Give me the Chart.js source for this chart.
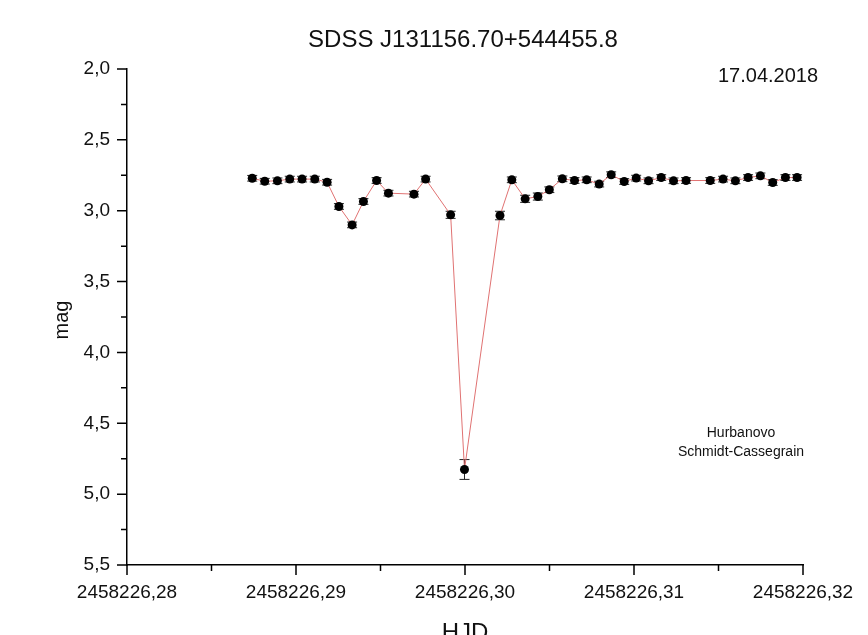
<!DOCTYPE html>
<html>
<head>
<meta charset="utf-8">
<script src="https://cdn.jsdelivr.net/npm/chart.js@4/dist/chart.umd.min.js"></script>
<style>
  html, body { margin: 0; padding: 0; background: #fff; }
  #wrap { width: 868px; height: 635px; position: relative; }
</style>
</head>
<body>
<div id="wrap"><canvas id="lc"></canvas></div>
<script>
// light curve, Hurbanovo 17.04.2018
const hjd = [
  2458226.28741, 2458226.28815, 2458226.28890, 2458226.28963, 2458226.29036,
  2458226.29111, 2458226.29184, 2458226.29254, 2458226.29332, 2458226.29399,
  2458226.29477, 2458226.29547, 2458226.29698, 2458226.29767, 2458226.29915,
  2458226.29997, 2458226.30207, 2458226.30277, 2458226.30356, 2458226.30431,
  2458226.30499, 2458226.30576, 2458226.30648, 2458226.30720, 2458226.30794,
  2458226.30865, 2458226.30942, 2458226.31013, 2458226.31086, 2458226.31161,
  2458226.31234, 2458226.31308, 2458226.31451, 2458226.31527, 2458226.31600,
  2458226.31675, 2458226.31748, 2458226.31821, 2458226.31896, 2458226.31965
];
const mag = [
  2.771, 2.792, 2.789, 2.777, 2.777, 2.777, 2.799, 2.970, 3.100, 2.935,
  2.787, 2.876, 2.883, 2.777, 3.029, 4.826, 3.034, 2.782, 2.916, 2.900,
  2.852, 2.775, 2.787, 2.782, 2.812, 2.746, 2.794, 2.770, 2.789, 2.766,
  2.789, 2.787, 2.787, 2.777, 2.789, 2.766, 2.754, 2.801, 2.766, 2.766
];
const magErr = [
  0.02, 0.02, 0.02, 0.02, 0.02, 0.02, 0.02, 0.02, 0.02, 0.02,
  0.02, 0.02, 0.02, 0.02, 0.025, 0.07, 0.03, 0.02, 0.025, 0.025,
  0.02, 0.02, 0.02, 0.02, 0.02, 0.02, 0.02, 0.02, 0.02, 0.02,
  0.02, 0.02, 0.02, 0.02, 0.02, 0.02, 0.02, 0.02, 0.02, 0.02
];
const xTicks = [2458226.28, 2458226.29, 2458226.30, 2458226.31, 2458226.32];
const yTicks = [2.0, 2.5, 3.0, 3.5, 4.0, 4.5, 5.0, 5.5];

const FONT = '"Liberation Sans", Arial, sans-serif';
const comma = (v, d) => v.toFixed(d).replace('.', ',');

// error bars under the points
const errorBars = {
  id: 'errorBars',
  beforeDatasetsDraw(chart) {
    const { ctx, scales: { x, y } } = chart;
    ctx.save();
    ctx.strokeStyle = '#222';
    ctx.lineWidth = 1;
    hjd.forEach((t, i) => {
      const px = x.getPixelForValue(t);
      const top = y.getPixelForValue(mag[i] - magErr[i]);
      const bot = y.getPixelForValue(mag[i] + magErr[i]);
      ctx.beginPath();
      ctx.moveTo(px, top); ctx.lineTo(px, bot);
      ctx.moveTo(px - 5, top); ctx.lineTo(px + 5, top);
      ctx.moveTo(px - 5, bot); ctx.lineTo(px + 5, bot);
      ctx.stroke();
    });
    ctx.restore();
  }
};

// outward major/minor tick marks + free texts
const decor = {
  id: 'decor',
  afterDraw(chart) {
    const { ctx, scales: { x, y }, chartArea: a } = chart;
    ctx.save();
    ctx.strokeStyle = '#000';
    ctx.lineWidth = 1.5;
    ctx.beginPath();
    xTicks.forEach((t, i) => {
      const px = x.getPixelForValue(t);
      ctx.moveTo(px, a.bottom); ctx.lineTo(px, a.bottom + 10);
      if (i < xTicks.length - 1) {
        const mx = x.getPixelForValue((t + xTicks[i + 1]) / 2);
        ctx.moveTo(mx, a.bottom); ctx.lineTo(mx, a.bottom + 6);
      }
    });
    yTicks.forEach((v, i) => {
      const py = y.getPixelForValue(v);
      ctx.moveTo(a.left, py); ctx.lineTo(a.left - 10, py);
      if (i < yTicks.length - 1) {
        const my = y.getPixelForValue((v + yTicks[i + 1]) / 2);
        ctx.moveTo(a.left, my); ctx.lineTo(a.left - 6, my);
      }
    });
    ctx.stroke();

    ctx.fillStyle = '#111';
    ctx.textAlign = 'center';
    ctx.textBaseline = 'middle';
    ctx.font = '24px ' + FONT;
    ctx.fillText('SDSS J131156.70+544455.8', 463, 40);
    ctx.fillText('HJD', 465, 633);
    ctx.font = '20px ' + FONT;
    ctx.fillText('17.04.2018', 768, 76);
    ctx.font = '14px ' + FONT;
    ctx.fillText('Hurbanovo', 741, 433);
    ctx.fillText('Schmidt-Cassegrain', 741, 452);
    ctx.translate(62, 320);
    ctx.rotate(-Math.PI / 2);
    ctx.font = '20px ' + FONT;
    ctx.fillText('mag', 0, 0);
    ctx.restore();
  }
};

new Chart(document.getElementById('lc'), {
  type: 'scatter',
  data: {
    datasets: [{
      data: hjd.map((t, i) => ({ x: t, y: mag[i] })),
      showLine: true,
      borderColor: '#e07272',
      borderWidth: 1,
      pointRadius: 4.5,
      pointBackgroundColor: '#000',
      pointBorderColor: '#000',
      pointBorderWidth: 0
    }]
  },
  options: {
    responsive: true,
    maintainAspectRatio: false,
    animation: false,
    layout: { padding: { top: 69, right: 65, left: 0, bottom: 0 } },
    plugins: { legend: { display: false }, tooltip: { enabled: false } },
    scales: {
      x: {
        type: 'linear',
        min: xTicks[0],
        max: xTicks[xTicks.length - 1],
        afterBuildTicks: s => { s.ticks = xTicks.map(v => ({ value: v })); },
        afterFit: s => { s.height = 70; },
        grid: { display: true, color: 'rgba(0,0,0,0)', tickColor: 'rgba(0,0,0,0)', tickLength: 10 },
        border: { display: true, color: '#000', width: 1.5 },
        ticks: {
          padding: 6,
          maxRotation: 0,
          color: '#111',
          font: { family: FONT, size: 19 },
          callback: v => comma(v, 2)
        }
      },
      y: {
        type: 'linear',
        reverse: true,
        min: yTicks[0],
        max: yTicks[yTicks.length - 1],
        afterBuildTicks: s => { s.ticks = yTicks.map(v => ({ value: v })); },
        afterFit: s => { s.width = 127; },
        grid: { display: true, color: 'rgba(0,0,0,0)', tickColor: 'rgba(0,0,0,0)', tickLength: 10 },
        border: { display: true, color: '#000', width: 1.5 },
        ticks: {
          padding: 7,
          color: '#111',
          font: { family: FONT, size: 19 },
          callback: v => comma(v, 1)
        }
      }
    }
  },
  plugins: [errorBars, decor]
});
</script>
</body>
</html>
